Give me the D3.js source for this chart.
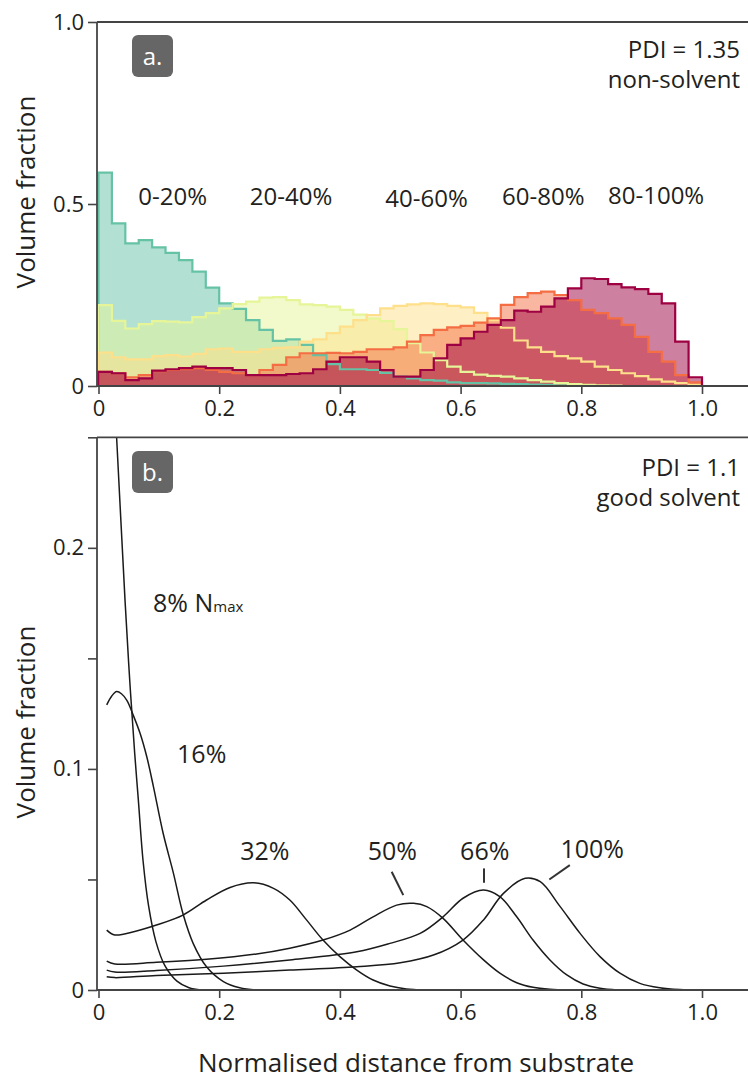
<!DOCTYPE html>
<html>
<head>
<meta charset="UTF-8">
<title>Volume fraction profiles</title>
<style>
  body { margin: 0; background: #fff; }
  svg text { font-family: "Open Sans", "Noto Sans", sans-serif; fill: #231f20; }
  .axis path { display: none; }
  .axis line { stroke: #444; stroke-width: 1.6; }
  .axis text { font-size: 22px; }
  .frame { stroke: #444; stroke-width: 1.8; }
</style>
</head>
<body>
<svg id="chart" width="748" height="1082"></svg>
<script src="https://cdn.jsdelivr.net/npm/d3@7"></script>
<script>
// ---- panel a: volume fraction histograms, 45 bins over 0..1 ----
var binCount = 45;
var groups = ["0-20%", "20-40%", "40-60%", "60-80%", "80-100%"];
var frac0to20 = [0.586, 0.447, 0.392, 0.401, 0.381, 0.366, 0.346, 0.314, 0.270, 0.227, 0.212, 0.181, 0.154, 0.124, 0.128,
                 0.113, 0.085, 0.060, 0.046, 0.046, 0.044, 0.036, 0.026, 0.021, 0.016, 0.015, 0.010, 0.008, 0.008, 0.007,
                 0.006, 0.005, 0.004, 0.003, 0.002, 0.002, 0.001, 0, 0, 0, 0, 0, 0, 0, 0];
var frac20to40 = [0.222, 0.179, 0.158, 0.170, 0.178, 0.177, 0.175, 0.189, 0.200, 0.213, 0.225, 0.232, 0.243, 0.244, 0.236,
                  0.224, 0.222, 0.218, 0.209, 0.196, 0.185, 0.178, 0.156, 0.118, 0.092, 0.071, 0.053, 0.039, 0.031, 0.028,
                  0.026, 0.021, 0.016, 0.012, 0.008, 0.005, 0.003, 0.002, 0.001, 0, 0, 0, 0, 0, 0];
var frac40to60 = [0.092, 0.079, 0.073, 0.073, 0.082, 0.085, 0.081, 0.088, 0.101, 0.103, 0.094, 0.094, 0.101, 0.105, 0.106,
                  0.122, 0.128, 0.145, 0.163, 0.181, 0.195, 0.213, 0.220, 0.224, 0.227, 0.225, 0.220, 0.216, 0.201, 0.181,
                  0.160, 0.125, 0.106, 0.094, 0.082, 0.076, 0.067, 0.053, 0.044, 0.035, 0.027, 0.018, 0.012, 0.008, 0.004];
var frac60to80 = [0.039, 0.035, 0.024, 0.030, 0.041, 0.044, 0.046, 0.049, 0.044, 0.039, 0.035, 0.030, 0.044, 0.058, 0.079,
                  0.090, 0.090, 0.091, 0.090, 0.094, 0.101, 0.101, 0.106, 0.122, 0.140, 0.154, 0.161, 0.165, 0.174, 0.186,
                  0.223, 0.244, 0.255, 0.259, 0.250, 0.236, 0.209, 0.200, 0.186, 0.168, 0.135, 0.094, 0.067, 0.030, 0.010];
var frac80to100 = [0.039, 0.035, 0.016, 0.021, 0.042, 0.046, 0.049, 0.053, 0.049, 0.049, 0.044, 0.030, 0.030, 0.030, 0.033,
                   0.035, 0.046, 0.067, 0.079, 0.079, 0.067, 0.044, 0.026, 0.026, 0.044, 0.076, 0.113, 0.131, 0.149, 0.168,
                   0.181, 0.207, 0.204, 0.218, 0.241, 0.268, 0.296, 0.294, 0.280, 0.271, 0.266, 0.253, 0.227, 0.122, 0.024];
var groupColors = ["#66c2a5", "#e6f598", "#fee08b", "#f46d43", "#9e0142"];

var xTicks = [0, 0.2, 0.4, 0.6, 0.8, 1.0];
var xTickLabels = ["0", "0.2", "0.4", "0.6", "0.8", "1.0"];
var yTicksA = [0, 0.5, 1.0];
var yTickLabelsA = ["0", "0.5", "1.0"];

// ---- panel b: profiles for chain fractions, [distance, volume fraction] ----
var chainLabels = ["8%", "16%", "32%", "50%", "66%", "100%"];
var profile8 = [[0.0136, 0.34], [0.022, 0.29], [0.030, 0.25], [0.044, 0.176], [0.052, 0.139], [0.060, 0.107],
                [0.066, 0.086], [0.074, 0.058], [0.083, 0.038], [0.095, 0.022], [0.110, 0.011], [0.130, 0.004],
                [0.150, 0.001], [0.170, 0]];
var profile16 = [[0.0136, 0.129], [0.022, 0.133], [0.030, 0.135], [0.038, 0.134], [0.047, 0.131], [0.058, 0.124],
                 [0.069, 0.116], [0.080, 0.1055], [0.091, 0.092], [0.107, 0.071], [0.124, 0.053], [0.1405, 0.034],
                 [0.157, 0.021], [0.179, 0.0105], [0.207, 0.0038], [0.234, 0.001], [0.262, 0]];
var profile32 = [[0.0136, 0.0271], [0.027, 0.0249], [0.060, 0.0265], [0.096, 0.0294], [0.140, 0.0339], [0.179, 0.0407],
                 [0.218, 0.0464], [0.257, 0.0485], [0.290, 0.046], [0.317, 0.0407], [0.345, 0.0316], [0.372, 0.0226],
                 [0.400, 0.0151], [0.428, 0.009], [0.455, 0.0045], [0.483, 0.0018], [0.510, 0.0005], [0.540, 0]];
var profile50 = [[0.0136, 0.0131], [0.027, 0.0118], [0.096, 0.0125], [0.179, 0.0139], [0.262, 0.0163], [0.317, 0.0189],
                 [0.372, 0.0226], [0.417, 0.0271], [0.455, 0.0331], [0.494, 0.0384], [0.522, 0.0392], [0.544, 0.0377],
                 [0.571, 0.0324], [0.604, 0.0226], [0.638, 0.0136], [0.665, 0.0076], [0.693, 0.0033], [0.720, 0.0012],
                 [0.748, 0.0003], [0.780, 0]];
var profile66 = [[0.0136, 0.009], [0.027, 0.0081], [0.096, 0.0088], [0.207, 0.0108], [0.317, 0.0136], [0.428, 0.0173],
                 [0.483, 0.0211], [0.533, 0.0256], [0.571, 0.0331], [0.604, 0.0415], [0.638, 0.0452], [0.665, 0.0422],
                 [0.693, 0.0331], [0.720, 0.0226], [0.748, 0.0136], [0.776, 0.0068], [0.803, 0.0027], [0.831, 0.0008],
                 [0.860, 0]];
var profile100 = [[0.0136, 0.006], [0.027, 0.0056], [0.096, 0.0066], [0.207, 0.0076], [0.317, 0.009], [0.428, 0.0105],
                  [0.500, 0.0123], [0.555, 0.0158], [0.604, 0.0226], [0.638, 0.0317], [0.671, 0.0437], [0.707, 0.0505],
                  [0.732, 0.049], [0.765, 0.0377], [0.798, 0.0256], [0.831, 0.0151], [0.864, 0.0076], [0.897, 0.003],
                  [0.930, 0.001], [0.963, 0.0002], [1.0, 0]];
var yTicksB = [0, 0.05, 0.1, 0.15, 0.2, 0.25];
var yTickLabelsB = ["0", "", "0.1", "", "0.2", ""];

var svg = d3.select("#chart");
var x = d3.scaleLinear().domain([0, 1]).range([98.5, 702]);
var yA = d3.scaleLinear().domain([0, 1]).range([386, 22]);
var yB = d3.scaleLinear().domain([0, 0.25]).range([990, 437.3]);

function drawAxes(y, top, yTicks, yLabels) {
    var g = svg.append("g");
    g.append("g").attr("class", "axis")
        .attr("transform", "translate(97,0)")
        .call(d3.axisLeft(y).tickValues(yTicks).tickFormat(function(d, i) { return yLabels[i]; })
            .tickSize(9).tickPadding(4));
    var xa = g.append("g").attr("class", "axis")
        .attr("transform", "translate(0," + y(0) + ")")
        .call(d3.axisBottom(x).tickValues(xTicks).tickFormat(function(d, i) { return xTickLabels[i]; })
            .tickSize(8));
    xa.selectAll("text").attr("y", 30).attr("dy", null);
    g.append("line").attr("class", "frame").attr("x1", 97).attr("x2", 97).attr("y1", top).attr("y2", y(0));
    g.append("line").attr("class", "frame").attr("x1", 97).attr("x2", 748).attr("y1", top).attr("y2", top);
    g.append("line").attr("class", "frame").attr("x1", 97).attr("x2", 748).attr("y1", y(0)).attr("y2", y(0));
}

function badge(label, yTop) {
    svg.append("rect").attr("x", 132).attr("y", yTop).attr("width", 41).attr("height", 42)
        .attr("rx", 6).attr("fill", "#666");
    svg.append("text").attr("x", 152.5).attr("y", yTop + 30).attr("text-anchor", "middle")
        .style("fill", "#fff").style("font-size", "24px").text(label);
}

function note(lines, baseline) {
    lines.forEach(function(t, i) {
        svg.append("text").attr("x", 740).attr("y", baseline + i * 30)
            .attr("text-anchor", "end").style("font-size", "24px").text(t);
    });
}

// ---------- panel a ----------
var allGroups = [frac0to20, frac20to40, frac40to60, frac60to80, frac80to100];
var binW = 1 / binCount;
var area = d3.area().x(function(d) { return x(d[0]); }).y0(yA(0)).y1(function(d) { return yA(d[1]); })
    .curve(d3.curveStepAfter);
var step = d3.line().x(function(d) { return x(d[0]); }).y(function(d) { return yA(d[1]); })
    .curve(d3.curveStepAfter);

var fills = svg.append("g"), outlines = svg.append("g");
allGroups.forEach(function(vals, k) {
    var pts = vals.map(function(v, i) { return [i * binW, v]; });
    pts.push([1, vals[vals.length - 1]]);
    fills.append("path").attr("d", area(pts)).attr("fill", groupColors[k]).attr("fill-opacity", 0.5);
    outlines.append("path").attr("d", step([[0, 0]].concat(pts, [[1, 0]])))
        .attr("fill", "none").attr("stroke", groupColors[k]).attr("stroke-width", 2.2);
});

drawAxes(yA, 22, yTicksA, yTickLabelsA);

var groupLabelX = [0.123, 0.319, 0.5435, 0.737, 0.924];
var groupLabelY = [0.498, 0.497, 0.493, 0.498, 0.5];
groups.forEach(function(t, i) {
    svg.append("text").attr("x", x(groupLabelX[i])).attr("y", yA(groupLabelY[i]))
        .attr("text-anchor", "middle").style("font-size", "24px").text(t);
});

badge("a.", 35);
note(["PDI = 1.35", "non-solvent"], 58);

// ---------- panel b ----------
svg.append("clipPath").attr("id", "clipB").append("rect")
    .attr("x", 97).attr("y", yB(0.25)).attr("width", 651).attr("height", yB(0) - yB(0.25));

var smooth = d3.line().x(function(d) { return x(d[0]); }).y(function(d) { return yB(d[1]); })
    .curve(d3.curveCatmullRom.alpha(0.5));
var profiles = [profile8, profile16, profile32, profile50, profile66, profile100];
var curves = svg.append("g").attr("clip-path", "url(#clipB)");
profiles.forEach(function(p) {
    curves.append("path").attr("d", smooth(p)).attr("fill", "none")
        .attr("stroke", "#1a1a1a").attr("stroke-width", 1.5);
});

drawAxes(yB, yB(0.25), yTicksB, yTickLabelsB);

// curve labels (anchor position in data units)
var labelAt = [[0.0903, 0.171, "start"], [0.171, 0.1026, "middle"], [0.2755, 0.059, "middle"],
               [0.487, 0.059, "middle"], [0.640, 0.059, "middle"], [0.818, 0.0595, "middle"]];
chainLabels.forEach(function(t, i) {
    var txt = svg.append("text").attr("x", x(labelAt[i][0])).attr("y", yB(labelAt[i][1]))
        .attr("text-anchor", labelAt[i][2]).style("font-size", "25px");
    if (i === 0) {
        txt.append("tspan").text(t + " N");
        txt.append("tspan").style("font-size", "15px").text("max");
    } else {
        txt.text(t);
    }
});

var leaders = [[[0.4858, 0.0535], [0.505, 0.0429]],
               [[0.6388, 0.055], [0.6388, 0.0485]],
               [[0.781, 0.0565], [0.747, 0.050]]];
leaders.forEach(function(l) {
    svg.append("line").attr("x1", x(l[0][0])).attr("y1", yB(l[0][1]))
        .attr("x2", x(l[1][0])).attr("y2", yB(l[1][1]))
        .attr("stroke", "#333").attr("stroke-width", 2);
});

badge("b.", 451);
note(["PDI = 1.1", "good solvent"], 476);

// axis titles
[192, 722].forEach(function(cy) {
    svg.append("text").attr("transform", "translate(35," + cy + ") rotate(-90)")
        .attr("text-anchor", "middle").style("font-size", "26px").text("Volume fraction");
});
svg.append("text").attr("x", 416).attr("y", 1072).attr("text-anchor", "middle")
    .style("font-size", "26px").text("Normalised distance from substrate");
</script>
</body>
</html>
